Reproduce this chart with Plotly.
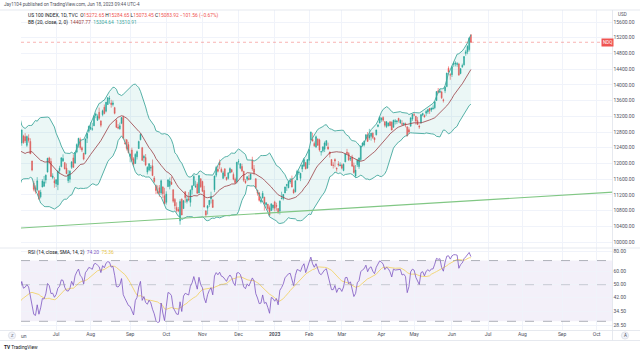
import numpy as np
import pandas as pd
import plotly.graph_objects as go

# ---------------- data ----------------
# closes of Apr-May 2022 (off-screen, only feed the indicators)
warmup_closes = [14862, 15172, 14819, 14492, 14529, 14306, 13952, 13911, 14196, 13852,
                 13867, 14168, 13984, 13690, 13357, 13541, 13022, 12999, 13480, 12855,
                 13083, 13107, 13527, 12870, 12714, 12209, 12337, 11944, 11937, 12387,
                 12230, 12534, 11928, 11880, 11835, 12046, 11776, 11952, 12270, 12681, 12643]

opens = [
    # 2022-06
    12680, 12520, 12700, 12680, 12460, 12650, 12560, 12060, 11500, 11380, 11330, 11300, 11150, 11400, 11420, 11580, 11780, 12140, 12050, 11640, 11560,
    # 2022-07
    11480, 11460, 11820, 11920, 12060, 12020, 11880, 11560, 11600, 11900, 12140, 12010, 12290, 12470, 12610, 12400, 12260, 12240, 12640, 12820,
    # 2022-08
    12880, 12870, 12960, 13220, 13100, 13300, 13080, 13240, 13430, 13330, 13500, 13640, 13540, 13500, 13420, 13100, 12920, 12880, 13020, 13170, 12520, 12600, 12480,
    # 2022-09
    12180, 12340, 12120, 12000, 12170, 12380, 12600, 12400, 12140, 12150, 11780, 11830, 11880, 11940, 11630, 11440, 11290, 11380, 11250, 11400, 11180,
    # 2022-10
    11010, 11410, 11420, 11520, 11330, 11080, 10880, 10830, 10540, 11090, 10850, 11280, 11030, 11100, 11010, 11330, 11440, 11400, 11470, 11250, 11610,
    # 2022-11
    11540, 11310, 10790, 10860, 10950, 11100, 11070, 11330, 11700, 11850, 12030, 11850, 11620, 11860, 11640, 11620, 11760, 11840, 11720, 11600, 11540,
    # 2022-12
    12040, 11880, 11920, 11800, 11550, 11600, 11620, 11600, 12090, 11860, 11610, 11320, 11250, 11020, 11120, 11140, 10950, 10960, 10870, 10800, 10870,
    # 2023-01
    11020, 10930, 10850, 10790, 11100, 11100, 11250, 11440, 11380, 11530, 11600, 11330, 11280, 11580, 11760, 11620, 11860, 11930, 12020, 11880,
    # 2023-02
    12080, 12600, 12610, 12510, 12420, 12620, 12600, 12290, 12320, 12360, 12460, 12420, 12290, 12100, 11960, 12100, 11880, 11990, 11940,
    # 2023-03
    11960, 11820, 12040, 12290, 12250, 12110, 12160, 11940, 11680, 11970, 11920, 12100, 12450, 12470, 12630, 12730, 12650, 12690, 12770, 12650, 12730, 12940, 13030,
    # 2023-04
    13110, 13170, 13060, 12940, 12960, 13060, 13050, 12920, 13070, 13060, 13150, 13030, 13010, 12990, 13010, 12930, 12860, 12950, 13130,
    # 2023-05
    13240, 13200, 13090, 12950, 13030, 13230, 13220, 13280, 13310, 13400, 13360, 13390, 13420, 13600, 13850, 13810, 13820, 13620, 13850, 13960, 14420, 14260,
    # 2023-06
    14260, 14520, 14530, 14520, 14530, 14290, 14460, 14510, 14800, 14840, 14900, 15272.65,
]

highs = [
    12760, 12860, 12730, 12770, 12710, 12740, 12640, 12070, 11560, 11440, 11650, 11320, 11330, 11600, 11680, 11720, 12140, 12170, 12130, 11750, 11650,
    11600, 11820, 11940, 12150, 12230, 12030, 12000, 11830, 11830, 12050, 12230, 12290, 12510, 12650, 12660, 12430, 12270, 12640, 12780, 12960,
    13050, 13030, 13230, 13290, 13250, 13420, 13100, 13370, 13500, 13560, 13690, 13720, 13620, 13600, 13440, 13120, 13000, 13040, 13180, 13220, 12630, 12620, 12550,
    12250, 12400, 12160, 12260, 12330, 12580, 12760, 12420, 12220, 12240, 11930, 12010, 11960, 12100, 11680, 11460, 11440, 11450, 11590, 11420, 11380,
    11290, 11600, 11640, 11660, 11340, 11120, 11010, 10890, 11090, 11110, 11070, 11290, 11180, 11270, 11340, 11440, 11700, 11560, 11520, 11700, 11620,
    11560, 11430, 10810, 10940, 11070, 11280, 11100, 11690, 11940, 11940, 12100, 11900, 11810, 11880, 11660, 11770, 11900, 11860, 11770, 11640, 12040,
    12110, 12010, 11990, 11810, 11600, 11680, 11710, 11740, 12170, 11960, 11620, 11330, 11270, 11130, 11300, 11150, 11010, 10970, 10930, 10990, 10950,
    11050, 11000, 10860, 11060, 11280, 11220, 11410, 11480, 11550, 11630, 11690, 11360, 11570, 11840, 11820, 11760, 11970, 12140, 12040, 12100,
    12380, 12810, 12780, 12560, 12710, 12640, 12630, 12320, 12440, 12560, 12590, 12530, 12300, 12110, 12030, 12130, 11900, 12060, 12030,
    12000, 12000, 12250, 12370, 12290, 12160, 12220, 12020, 11960, 12110, 12150, 12460, 12540, 12580, 12740, 12800, 12880, 12780, 12790, 12670, 12860, 13000, 13190,
    13170, 13200, 13080, 13080, 13040, 13070, 13070, 13110, 13130, 13100, 13160, 13120, 13100, 13040, 13040, 12950, 12920, 13170, 13260,
    13290, 13210, 13180, 12990, 13260, 13290, 13250, 13360, 13390, 13410, 13420, 13480, 13590, 13840, 13920, 13900, 13850, 13650, 13970, 14310, 14470, 14300,
    14490, 14590, 14600, 14580, 14560, 14430, 14540, 14730, 14890, 15010, 15210, 15284.65,
]

lows = [
    12430, 12450, 12500, 12520, 12420, 12530, 12240, 11800, 11290, 11230, 11290, 11070, 11110, 11390, 11410, 11490, 11770, 11980, 11660, 11600, 11380,
    11400, 11320, 11740, 11900, 12040, 11850, 11730, 11500, 11510, 11860, 11890, 11990, 12260, 12400, 12350, 12290, 12080, 12230, 12520, 12780,
    12850, 12830, 12950, 13150, 13080, 13110, 12920, 13200, 13250, 13300, 13490, 13520, 13420, 13450, 13250, 12900, 12870, 12860, 13000, 12630, 12480, 12330, 12260,
    12030, 12040, 11920, 11990, 12100, 12370, 12590, 12060, 12040, 11930, 11720, 11800, 11800, 11680, 11500, 11220, 11220, 11150, 11200, 11120, 10960,
    10950, 11400, 11340, 11450, 11000, 10830, 10750, 10760, 10440, 10680, 10840, 11000, 10980, 11040, 10900, 11210, 11430, 11380, 11230, 11240, 11380,
    11270, 10880, 10630, 10700, 10890, 10980, 10870, 11270, 11650, 11770, 11860, 11760, 11600, 11640, 11560, 11590, 11750, 11770, 11570, 11480, 11490,
    11970, 11850, 11780, 11530, 11480, 11550, 11570, 11580, 11810, 11700, 11350, 11180, 11030, 10980, 11110, 10800, 10870, 10800, 10670, 10790, 10820,
    10780, 10800, 10720, 10700, 11090, 11060, 11240, 11300, 11370, 11480, 11390, 11230, 11260, 11570, 11710, 11550, 11780, 11920, 11850, 11870,
    11960, 12580, 12560, 12420, 12390, 12450, 12300, 12200, 12280, 12290, 12440, 12340, 12150, 11940, 11870, 11900, 11790, 11920, 11930,
    11850, 11800, 12030, 12230, 12060, 12060, 11920, 11740, 11640, 11910, 11860, 12060, 12430, 12430, 12590, 12550, 12600, 12580, 12620, 12530, 12710, 12920, 13020,
    13060, 13060, 12920, 12900, 12940, 12950, 12840, 12910, 12990, 13000, 13040, 13010, 12970, 12960, 12920, 12690, 12760, 12930, 13080,
    13200, 12990, 12980, 12880, 13020, 13200, 13170, 13210, 13260, 13260, 13310, 13370, 13380, 13590, 13780, 13790, 13640, 13550, 13790, 13940, 14270, 14130,
    14200, 14460, 14470, 14460, 14230, 14270, 14430, 14490, 14740, 14780, 14850, 15073.45,
]

closes = [
    12524, 12853, 12531, 12575, 12688, 12586, 12244, 11831, 11340, 11285, 11556, 11099, 11265, 11550, 11530, 11702, 12133, 12034, 11666, 11681, 11503,
    11586, 11808, 11880, 12145, 12126, 11860, 11740, 11720, 11800, 12040, 11900, 12280, 12480, 12640, 12400, 12340, 12110, 12620, 12760, 12947,
    12920, 12880, 13210, 13260, 13200, 13150, 12970, 13340, 13270, 13560, 13670, 13650, 13500, 13540, 13275, 12920, 12900, 12960, 13170, 12640, 12510, 12380, 12272,
    12240, 12080, 11980, 12230, 12300, 12560, 12740, 12080, 12180, 11960, 11900, 11990, 11900, 11690, 11540, 11310, 11250, 11260, 11560, 11230, 10971,
    11220, 11580, 11550, 11470, 11040, 10920, 10800, 10790, 11030, 10690, 11050, 11130, 11090, 11070, 11320, 11430, 11670, 11420, 11240, 11690, 11405,
    11290, 10890, 10690, 10920, 11060, 11150, 10880, 11680, 11900, 11800, 11960, 11790, 11760, 11680, 11590, 11760, 11870, 11780, 11600, 11510, 12030,
    12050, 11990, 11810, 11570, 11510, 11660, 11590, 11730, 11860, 11770, 11380, 11240, 11060, 11070, 11240, 10980, 11000, 10850, 10680, 10970, 10940,
    10860, 10910, 10740, 11040, 11110, 11210, 11400, 11460, 11540, 11560, 11400, 11250, 11560, 11800, 11780, 11750, 11960, 12100, 11860, 12100,
    12350, 12800, 12570, 12450, 12680, 12460, 12340, 12300, 12420, 12520, 12580, 12370, 12240, 11950, 11950, 12060, 11860, 11960, 11960,
    11880, 11980, 12240, 12250, 12090, 12140, 11930, 11770, 11830, 12080, 12140, 12440, 12520, 12570, 12730, 12560, 12720, 12770, 12660, 12600, 12850, 12980, 13180,
    13150, 13100, 12970, 13060, 13030, 12960, 12850, 13100, 13080, 13080, 13090, 13100, 13000, 13020, 12980, 12700, 12800, 13160, 13250,
    13230, 13080, 12990, 12930, 13240, 13270, 13180, 13320, 13370, 13340, 13410, 13410, 13570, 13830, 13810, 13840, 13670, 13600, 13940, 14300, 14330, 14250,
    14460, 14550, 14550, 14540, 14250, 14410, 14490, 14720, 14840, 14980, 15190, 15083.92,
]

market_holidays = ['2022-04-15', '2022-05-30', '2022-06-20', '2022-07-04', '2022-09-05',
                   '2022-11-24', '2022-12-26', '2023-01-02', '2023-01-16', '2023-02-20',
                   '2023-04-07', '2023-05-29', '2023-06-19', '2023-07-04', '2023-09-04']

tick_dates = ['2022-07-01', '2022-08-01', '2022-09-01', '2022-10-03', '2022-11-01', '2022-12-01',
              '2023-01-03', '2023-02-01', '2023-03-01', '2023-04-03', '2023-05-01', '2023-06-01',
              '2023-07-03', '2023-08-01', '2023-09-01', '2023-10-02']
tick_labels = ['Jul', 'Aug', 'Sep', 'Oct', 'Nov', 'Dec', '<b>2023</b>', 'Feb', 'Mar', 'Apr', 'May',
               'Jun', 'Jul', 'Aug', 'Sep', 'Oct']

price_ticks = list(range(10000, 15601, 400))
rsi_ticks = [80, 60, 50, 42, 34.5, 28.5]
rsi_levels = [70, 50, 30]

trend_dates = ['2022-06-01', '2023-10-20']
trend_values = [10355, 11280]

last_close = 15083.92

# ---------------- derived ----------------
W, H = 640, 351
FONT = 'Roboto'
origin = '2022-06-01'

days = pd.bdate_range('2022-04-01', '2023-06-16')
days = days[~days.isin(pd.to_datetime(market_holidays))]
all_pos = np.busday_count(origin, days.values.astype('datetime64[D]'),
                          holidays=market_holidays)
n_warm = len(warmup_closes)
n = min(len(opens), len(highs), len(lows), len(closes), len(days) - n_warm)
vis_pos = all_pos[n_warm:n_warm + n]
vis_dates = days[n_warm:n_warm + n]

all_close = pd.Series(np.array(warmup_closes + closes[:n], float))
pos_all = all_pos[:len(all_close)]

basis = all_close.rolling(20).mean()
dev = all_close.rolling(20).std(ddof=0)
upper = basis + 2 * dev
lower = basis - 2 * dev


def rma(vals, length):
    out = np.full(len(vals), np.nan)
    out[length] = np.mean(vals[1:length + 1])
    for i in range(length + 1, len(vals)):
        out[i] = (out[i - 1] * (length - 1) + vals[i]) / length
    return out


delta = all_close.diff().values
gain = np.where(delta > 0, delta, 0.0)
loss = np.where(delta < 0, -delta, 0.0)
ag = rma(gain, 14)
al = rma(loss, 14)
rsi = 100 - 100 / (1 + ag / al)
rsi_ma = pd.Series(rsi).rolling(14).mean().values

tick_pos = np.busday_count(origin, np.array(tick_dates, dtype='datetime64[D]'),
                           holidays=market_holidays)
trend_pos = np.busday_count(origin, np.array(trend_dates, dtype='datetime64[D]'),
                            holidays=market_holidays)

# pixel helpers
def fx(p):
    return p / W


def fy(p):
    return 1 - p / H


X0, X1 = 21, 612.5
MAIN_T, MAIN_B = 10, 248
RSI_T, RSI_B = 248, 330
px_per_bar = 1.721
x_left = (X0 - 20) / px_per_bar
x_right = x_left + (X1 - X0) / px_per_bar

# main price axis linear: 15600 at 22px, 10000 at 242px
ppp = 5600 / 220.0
y_top = 15600 + (22 - MAIN_T) * ppp
y_bot = 10000 - (MAIN_B - 242) * ppp
# rsi axis log: 80 at 251px, 28.5 at 325px
k = (325 - 251) / np.log(80 / 28.5)
r_top = 80 * np.exp((251 - RSI_T) / k)
r_bot = 28.5 * np.exp(-(RSI_B - 325) / k)

UP, DOWN = '#26a69a', '#ef5350'
BAND = '#43a89d'
BASIS = '#9a3f45'
GRID = '#f0f3fa'
TXT = '#131722'
AX = '#4f5260'

fig = go.Figure()

# Bollinger
fig.add_trace(go.Scatter(x=pos_all, y=upper, mode='lines', line=dict(color=BAND, width=0.9),
                         hoverinfo='skip', showlegend=False))
fig.add_trace(go.Scatter(x=pos_all, y=lower, mode='lines', line=dict(color=BAND, width=0.9),
                         fill='tonexty', fillcolor='rgba(38,166,154,0.09)',
                         hoverinfo='skip', showlegend=False))
fig.add_trace(go.Scatter(x=pos_all, y=basis, mode='lines', line=dict(color=BASIS, width=0.8),
                         hoverinfo='skip', showlegend=False))

# trend line
fig.add_trace(go.Scatter(x=trend_pos, y=trend_values, mode='lines',
                         line=dict(color='#81c784', width=1.1), hoverinfo='skip', showlegend=False))

# candles
fig.add_trace(go.Candlestick(
    x=vis_pos, open=opens[:n], high=highs[:n], low=lows[:n], close=closes[:n],
    text=[d.strftime('%Y-%m-%d') for d in vis_dates],
    increasing=dict(line=dict(color=UP, width=0.6), fillcolor=UP),
    decreasing=dict(line=dict(color=DOWN, width=0.6), fillcolor=DOWN),
    whiskerwidth=0, showlegend=False, xaxis='x', yaxis='y'))

# RSI
fig.add_trace(go.Scatter(x=pos_all, y=rsi_ma, mode='lines', line=dict(color='#f2d46c', width=0.9),
                         yaxis='y2', hoverinfo='skip', showlegend=False))
fig.add_trace(go.Scatter(x=pos_all, y=rsi, mode='lines', line=dict(color='#7e57c2', width=0.8),
                         yaxis='y2', hoverinfo='skip', showlegend=False))

shapes = []
# rsi band
shapes.append(dict(type='rect', xref='x domain', x0=0, x1=1, yref='y2', y0=rsi_levels[2],
                   y1=rsi_levels[0], fillcolor='rgba(126,87,194,0.09)', line=dict(width=0),
                   layer='below'))
for lv, dash, col in [(rsi_levels[0], 'dash', '#8e919b'), (rsi_levels[1], 'dash', 'rgba(142,145,155,0.6)'),
                      (rsi_levels[2], 'dash', '#8e919b')]:
    shapes.append(dict(type='line', xref='x domain', x0=0, x1=1, yref='y2', y0=lv, y1=lv,
                       line=dict(color=col, width=0.7, dash=dash), layer='above'))
# last price line
shapes.append(dict(type='line', xref='x domain', x0=0, x1=(601 - X0) / (X1 - X0), yref='y',
                   y0=last_close, y1=last_close,
                   line=dict(color='rgba(239,83,80,0.55)', width=0.8, dash='dot')))
# borders
BORDER = '#e0e3eb'
for (xa, ya, xb, yb) in [(X1, MAIN_T, X1, 340.5), (0, RSI_T, W, RSI_T),
                         (0, RSI_B + 0.5, W, RSI_B + 0.5), (0, 340.5, W, 340.5),
                         (0, MAIN_T, W, MAIN_T)]:
    shapes.append(dict(type='line', xref='paper', yref='paper', x0=fx(xa), x1=fx(xb),
                       y0=fy(ya), y1=fy(yb), line=dict(color=BORDER, width=0.8)))
# axis buttons
for cx in (12, 625):
    shapes.append(dict(type='circle', xref='paper', yref='paper', x0=fx(cx - 3.6), x1=fx(cx + 3.6),
                       y0=fy(335.5 + 3.6), y1=fy(335.5 - 3.6),
                       line=dict(color='#d1d4dc', width=0.6), fillcolor='#f0f3fa'))

ann = []


def text(x, y, s, size=5, color=TXT, anchor='left', **kw):
    ann.append(dict(x=fx(x), y=fy(y), xref='paper', yref='paper', text=s, showarrow=False,
                    xanchor=anchor, yanchor='middle', font=dict(family=FONT, size=size, color=color), **kw))


red = '#ef5350'
text(2, 4.5, 'Jay1104 published on TradingView.com, Jun 18, 2023 09:44 UTC-4', size=4.6, color='#50535e')
text(26, 15.5,
     'US 100 INDEX, 1D, TVC  '
     f'O<span style="color:{red}">15272.65</span> H<span style="color:{red}">15284.65</span> '
     f'L<span style="color:{red}">15073.45</span> C<span style="color:{red}">15083.92</span> '
     f'<span style="color:{red}">\u2212101.56 (\u22120.67%)</span>', size=4.9)
text(26, 22.5,
     f'BB (20, close, 2, 0)  <span style="color:{BASIS}">14407.77</span>  '
     f'<span style="color:{BAND}">15304.64</span>  <span style="color:{BAND}">13510.91</span>', size=4.9)
text(26, 252.5,
     'RSI (14, close, SMA, 14, 2)  <span style="color:#7e57c2">74.20</span>  '
     '<span style="color:#e8c547">75.36</span>', size=4.9)
text(616, 15, 'USD', size=4.6, color=AX)
text(624, 335.5, 'un', size=5, color=AX, anchor='center') if False else None
text(24, 335.5, 'un', size=5, color=AX, anchor='center')
text(625, 335.5, 'A', size=4.5, color=AX, anchor='center')
text(12, 335.5, 'Z', size=4.2, color=AX, anchor='center')
text(2, 347, '<b>TV</b> TradingView', size=4.8, color=TXT)
ann.append(dict(x=fx(607), y=last_close, xref='paper', yref='y', text='NDQ', showarrow=False,
                xanchor='center', yanchor='middle', bgcolor=red, borderpad=1,
                font=dict(family=FONT, size=4.5, color='white')))

fig.update_layout(
    width=W, height=H, margin=dict(l=0, r=0, t=0, b=0),
    paper_bgcolor='white', plot_bgcolor='white',
    font=dict(family=FONT, size=5, color=AX),
    shapes=shapes, annotations=ann, hovermode=False,
    xaxis=dict(domain=[fx(X0), fx(X1)], range=[x_left, x_right], anchor='y2',
               tickvals=tick_pos, ticktext=tick_labels, showgrid=True, gridcolor=GRID,
               gridwidth=0.8, zeroline=False, showline=False, ticks='',
               tickfont=dict(size=5, color=AX), rangeslider=dict(visible=False)),
    yaxis=dict(domain=[fy(MAIN_B), fy(MAIN_T)], range=[y_bot, y_top], side='right', anchor='x',
               tickvals=price_ticks, ticktext=[f'{v:.2f}' for v in price_ticks],
               showgrid=True, gridcolor=GRID, gridwidth=0.8, zeroline=False, ticks='',
               tickfont=dict(size=5, color=AX)),
    yaxis2=dict(domain=[fy(RSI_B), fy(RSI_T)], type='log',
                range=[np.log10(r_bot), np.log10(r_top)], side='right', anchor='x',
                tickvals=rsi_ticks, ticktext=[f'{v:.2f}' for v in rsi_ticks],
                showgrid=True, gridcolor=GRID, gridwidth=0.8, zeroline=False, ticks='',
                tickfont=dict(size=5, color=AX)),
)

fig.write_html('out.html')
